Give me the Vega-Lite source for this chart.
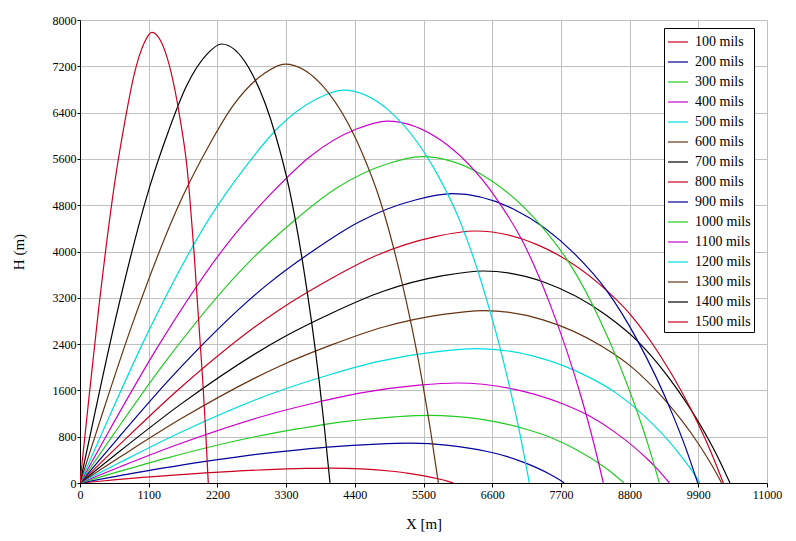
{
  "$schema": "https://vega.github.io/schema/vega-lite/v6.json",
  "width": 687,
  "height": 463,
  "autosize": "none",
  "padding": {"left": 80, "top": 20, "right": 29, "bottom": 58},
  "background": "white",
  "data": {"values": [
    {"s":"100 mils","x":0,"h":0},{"s":"100 mils","x":402,"h":39},{"s":"100 mils","x":1005,"h":96},{"s":"100 mils","x":2010,"h":176},{"s":"100 mils","x":2513,"h":206},{"s":"100 mils","x":3015,"h":232},{"s":"100 mils","x":3618,"h":251},{"s":"100 mils","x":4020,"h":257},{"s":"100 mils","x":4510,"h":243},{"s":"100 mils","x":4999,"h":203},{"s":"100 mils","x":5244,"h":172},{"s":"100 mils","x":5489,"h":128},{"s":"100 mils","x":5782,"h":60},{"s":"100 mils","x":5880,"h":32},{"s":"100 mils","x":5978,"h":0},
    {"s":"200 mils","x":0,"h":0},{"s":"200 mils","x":528,"h":105},{"s":"200 mils","x":1321,"h":256},{"s":"200 mils","x":2642,"h":470},{"s":"200 mils","x":3303,"h":552},{"s":"200 mils","x":3963,"h":621},{"s":"200 mils","x":4756,"h":673},{"s":"200 mils","x":5284,"h":688},{"s":"200 mils","x":5902,"h":651},{"s":"200 mils","x":6520,"h":544},{"s":"200 mils","x":6828,"h":460},{"s":"200 mils","x":7137,"h":343},{"s":"200 mils","x":7508,"h":160},{"s":"200 mils","x":7631,"h":85},{"s":"200 mils","x":7755,"h":0},
    {"s":"300 mils","x":0,"h":0},{"s":"300 mils","x":561,"h":178},{"s":"300 mils","x":1401,"h":435},{"s":"300 mils","x":2803,"h":799},{"s":"300 mils","x":3503,"h":938},{"s":"300 mils","x":4204,"h":1057},{"s":"300 mils","x":5045,"h":1144},{"s":"300 mils","x":5605,"h":1170},{"s":"300 mils","x":6382,"h":1107},{"s":"300 mils","x":7158,"h":924},{"s":"300 mils","x":7546,"h":783},{"s":"300 mils","x":7935,"h":584},{"s":"300 mils","x":8400,"h":271},{"s":"300 mils","x":8556,"h":144},{"s":"300 mils","x":8711,"h":0},
    {"s":"400 mils","x":0,"h":0},{"s":"400 mils","x":603,"h":263},{"s":"400 mils","x":1508,"h":643},{"s":"400 mils","x":3016,"h":1180},{"s":"400 mils","x":3770,"h":1386},{"s":"400 mils","x":4524,"h":1560},{"s":"400 mils","x":5429,"h":1690},{"s":"400 mils","x":6032,"h":1728},{"s":"400 mils","x":6883,"h":1635},{"s":"400 mils","x":7735,"h":1365},{"s":"400 mils","x":8160,"h":1156},{"s":"400 mils","x":8586,"h":862},{"s":"400 mils","x":9097,"h":401},{"s":"400 mils","x":9267,"h":213},{"s":"400 mils","x":9437,"h":0},
    {"s":"500 mils","x":0,"h":0},{"s":"500 mils","x":635,"h":353},{"s":"500 mils","x":1588,"h":864},{"s":"500 mils","x":3176,"h":1586},{"s":"500 mils","x":3970,"h":1862},{"s":"500 mils","x":4764,"h":2097},{"s":"500 mils","x":5717,"h":2271},{"s":"500 mils","x":6352,"h":2322},{"s":"500 mils","x":7246,"h":2197},{"s":"500 mils","x":8140,"h":1834},{"s":"500 mils","x":8587,"h":1553},{"s":"500 mils","x":9034,"h":1159},{"s":"500 mils","x":9570,"h":539},{"s":"500 mils","x":9749,"h":286},{"s":"500 mils","x":9928,"h":0},
    {"s":"600 mils","x":0,"h":0},{"s":"600 mils","x":646,"h":453},{"s":"600 mils","x":1615,"h":1109},{"s":"600 mils","x":3230,"h":2035},{"s":"600 mils","x":4038,"h":2390},{"s":"600 mils","x":4845,"h":2691},{"s":"600 mils","x":5814,"h":2914},{"s":"600 mils","x":6460,"h":2980},{"s":"600 mils","x":7414,"h":2819},{"s":"600 mils","x":8368,"h":2354},{"s":"600 mils","x":8844,"h":1994},{"s":"600 mils","x":9321,"h":1487},{"s":"600 mils","x":9894,"h":691},{"s":"600 mils","x":10084,"h":367},{"s":"600 mils","x":10275,"h":0},
    {"s":"700 mils","x":0,"h":0},{"s":"700 mils","x":646,"h":557},{"s":"700 mils","x":1615,"h":1363},{"s":"700 mils","x":3229,"h":2502},{"s":"700 mils","x":4036,"h":2938},{"s":"700 mils","x":4844,"h":3308},{"s":"700 mils","x":5812,"h":3582},{"s":"700 mils","x":6458,"h":3663},{"s":"700 mils","x":7446,"h":3465},{"s":"700 mils","x":8433,"h":2894},{"s":"700 mils","x":8927,"h":2451},{"s":"700 mils","x":9421,"h":1828},{"s":"700 mils","x":10013,"h":850},{"s":"700 mils","x":10211,"h":451},{"s":"700 mils","x":10408,"h":0},
    {"s":"800 mils","x":0,"h":0},{"s":"800 mils","x":633,"h":662},{"s":"800 mils","x":1581,"h":1620},{"s":"800 mils","x":3163,"h":2974},{"s":"800 mils","x":3953,"h":3492},{"s":"800 mils","x":4744,"h":3932},{"s":"800 mils","x":5693,"h":4258},{"s":"800 mils","x":6325,"h":4354},{"s":"800 mils","x":7319,"h":4119},{"s":"800 mils","x":8313,"h":3440},{"s":"800 mils","x":8810,"h":2913},{"s":"800 mils","x":9307,"h":2173},{"s":"800 mils","x":9903,"h":1010},{"s":"800 mils","x":10102,"h":536},{"s":"800 mils","x":10301,"h":0},
    {"s":"900 mils","x":0,"h":0},{"s":"900 mils","x":597,"h":760},{"s":"900 mils","x":1491,"h":1860},{"s":"900 mils","x":2983,"h":3415},{"s":"900 mils","x":3728,"h":4010},{"s":"900 mils","x":4474,"h":4515},{"s":"900 mils","x":5369,"h":4890},{"s":"900 mils","x":5965,"h":5000},{"s":"900 mils","x":6947,"h":4730},{"s":"900 mils","x":7928,"h":3950},{"s":"900 mils","x":8419,"h":3345},{"s":"900 mils","x":8910,"h":2495},{"s":"900 mils","x":9498,"h":1160},{"s":"900 mils","x":9695,"h":615},{"s":"900 mils","x":9891,"h":0},
    {"s":"1000 mils","x":0,"h":0},{"s":"1000 mils","x":547,"h":857},{"s":"1000 mils","x":1368,"h":2098},{"s":"1000 mils","x":2736,"h":3852},{"s":"1000 mils","x":3419,"h":4523},{"s":"1000 mils","x":4103,"h":5093},{"s":"1000 mils","x":4924,"h":5516},{"s":"1000 mils","x":5471,"h":5640},{"s":"1000 mils","x":6423,"h":5335},{"s":"1000 mils","x":7374,"h":4456},{"s":"1000 mils","x":7850,"h":3773},{"s":"1000 mils","x":8326,"h":2814},{"s":"1000 mils","x":8896,"h":1308},{"s":"1000 mils","x":9087,"h":694},{"s":"1000 mils","x":9277,"h":0},
    {"s":"1100 mils","x":0,"h":0},{"s":"1100 mils","x":492,"h":951},{"s":"1100 mils","x":1230,"h":2326},{"s":"1100 mils","x":2460,"h":4271},{"s":"1100 mils","x":3075,"h":5016},{"s":"1100 mils","x":3690,"h":5647},{"s":"1100 mils","x":4428,"h":6116},{"s":"1100 mils","x":4920,"h":6254},{"s":"1100 mils","x":5785,"h":5916},{"s":"1100 mils","x":6650,"h":4941},{"s":"1100 mils","x":7083,"h":4184},{"s":"1100 mils","x":7515,"h":3121},{"s":"1100 mils","x":8034,"h":1451},{"s":"1100 mils","x":8207,"h":769},{"s":"1100 mils","x":8380,"h":0},
    {"s":"1200 mils","x":0,"h":0},{"s":"1200 mils","x":422,"h":1032},{"s":"1200 mils","x":1054,"h":2525},{"s":"1200 mils","x":2109,"h":4636},{"s":"1200 mils","x":2636,"h":5444},{"s":"1200 mils","x":3163,"h":6130},{"s":"1200 mils","x":3795,"h":6639},{"s":"1200 mils","x":4217,"h":6788},{"s":"1200 mils","x":4962,"h":6421},{"s":"1200 mils","x":5706,"h":5363},{"s":"1200 mils","x":6078,"h":4541},{"s":"1200 mils","x":6451,"h":3387},{"s":"1200 mils","x":6897,"h":1575},{"s":"1200 mils","x":7046,"h":835},{"s":"1200 mils","x":7195,"h":0},
    {"s":"1300 mils","x":0,"h":0},{"s":"1300 mils","x":328,"h":1100},{"s":"1300 mils","x":821,"h":2693},{"s":"1300 mils","x":1642,"h":4944},{"s":"1300 mils","x":2052,"h":5806},{"s":"1300 mils","x":2462,"h":6537},{"s":"1300 mils","x":2955,"h":7080},{"s":"1300 mils","x":3283,"h":7239},{"s":"1300 mils","x":3897,"h":6848},{"s":"1300 mils","x":4511,"h":5719},{"s":"1300 mils","x":4817,"h":4843},{"s":"1300 mils","x":5124,"h":3612},{"s":"1300 mils","x":5493,"h":1679},{"s":"1300 mils","x":5615,"h":890},{"s":"1300 mils","x":5738,"h":0},
    {"s":"1400 mils","x":0,"h":0},{"s":"1400 mils","x":227,"h":1153},{"s":"1400 mils","x":567,"h":2822},{"s":"1400 mils","x":1134,"h":5181},{"s":"1400 mils","x":1418,"h":6083},{"s":"1400 mils","x":1701,"h":6849},{"s":"1400 mils","x":2041,"h":7418},{"s":"1400 mils","x":2268,"h":7585},{"s":"1400 mils","x":2702,"h":7175},{"s":"1400 mils","x":3136,"h":5992},{"s":"1400 mils","x":3352,"h":5074},{"s":"1400 mils","x":3569,"h":3785},{"s":"1400 mils","x":3830,"h":1760},{"s":"1400 mils","x":3916,"h":933},{"s":"1400 mils","x":4003,"h":0},
    {"s":"1500 mils","x":0,"h":0},{"s":"1500 mils","x":115,"h":1184},{"s":"1500 mils","x":287,"h":2897},{"s":"1500 mils","x":574,"h":5319},{"s":"1500 mils","x":718,"h":6245},{"s":"1500 mils","x":861,"h":7032},{"s":"1500 mils","x":1033,"h":7616},{"s":"1500 mils","x":1148,"h":7787},{"s":"1500 mils","x":1375,"h":7420},{"s":"1500 mils","x":1601,"h":6300},{"s":"1500 mils","x":1714,"h":5450},{"s":"1500 mils","x":1828,"h":3950},{"s":"1500 mils","x":1963,"h":1807},{"s":"1500 mils","x":2009,"h":958},{"s":"1500 mils","x":2054,"h":0}
  ]},
  "mark": {"type": "line", "strokeWidth": 1.2, "interpolate": "monotone", "clip": true},
  "encoding": {
    "x": {
      "field": "x", "type": "quantitative",
      "scale": {"domain": [0, 11000], "nice": false},
      "axis": {
        "values": [0,1100,2200,3300,4400,5500,6600,7700,8800,9900,11000],
        "title": "X [m]", "format": "d"
      }
    },
    "y": {
      "field": "h", "type": "quantitative",
      "scale": {"domain": [0, 8000], "nice": false},
      "axis": {
        "values": [0,800,1600,2400,3200,4000,4800,5600,6400,7200,8000],
        "title": "H (m)", "format": "d"
      }
    },
    "color": {
      "field": "s", "type": "nominal",
      "scale": {
        "domain": ["100 mils","200 mils","300 mils","400 mils","500 mils","600 mils","700 mils","800 mils","900 mils","1000 mils","1100 mils","1200 mils","1300 mils","1400 mils","1500 mils"],
        "range": ["#cc0020","#000099","#22cc22","#cc00cc","#00dddd","#663311","#000000","#cc0020","#000099","#22cc22","#cc00cc","#00dddd","#663311","#000000","#cc0020"]
      },
      "legend": {
        "title": null,
        "orient": "none",
        "legendX": 584,
        "legendY": 8,
        "symbolType": "stroke",
        "symbolSize": 400,
        "symbolStrokeWidth": 1.2,
        "labelFontSize": 14,
        "labelFont": "Liberation Serif",
        "labelColor": "#000000",
        "labelOffset": 6,
        "padding": 3,
        "rowPadding": 2,
        "strokeColor": "#000000",
        "fillColor": "#ffffff"
      }
    }
  },
  "config": {
    "view": {"stroke": null},
    "font": "Liberation Serif",
    "axis": {
      "labelFont": "Liberation Serif",
      "labelFontSize": 12,
      "labelColor": "#000000",
      "titleFont": "Liberation Serif",
      "titleFontSize": 15,
      "titleFontWeight": "normal",
      "titleColor": "#000000",
      "domainColor": "#000000",
      "tickColor": "#000000",
      "gridColor": "#c0c0c0",
      "gridOpacity": 1,
      "grid": true
    },
    "axisX": {"tickSize": 4, "labelPadding": 2, "titlePadding": 16, "labelFlush": false},
    "axisY": {"tickSize": 3, "labelPadding": 1, "titlePadding": 26, "labelFlush": false}
  }
}
